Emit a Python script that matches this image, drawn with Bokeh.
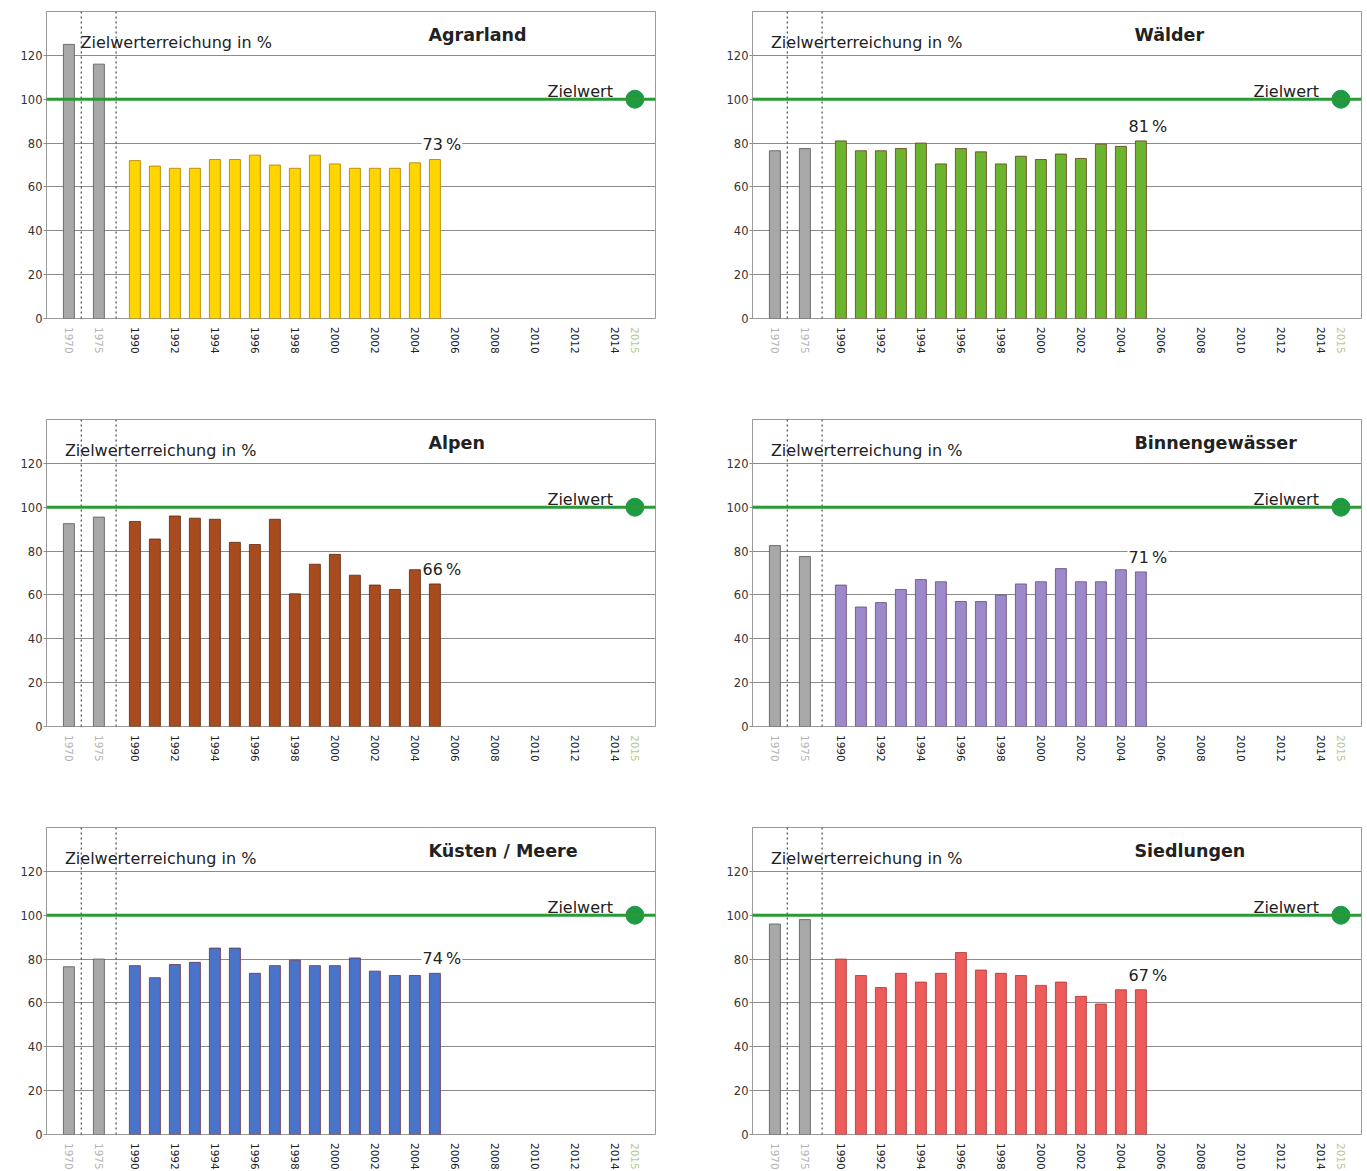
import math
from bokeh.plotting import figure
from bokeh.models import Range1d, Span, Label, ColumnDataSource, FixedTicker
from bokeh.layouts import column, row
from bokeh.core.properties import value
from bokeh.embed import file_html
from bokeh.resources import INLINE

# ---------------- data ----------------
early_years = [1970, 1975]
years = list(range(1990, 2006))
tick_years = [1970, 1975] + list(range(1990, 2015, 2)) + [2015]
target_year = 2015
target_value = 100

titles = ["Agrarland", "Wälder", "Alpen", "Binnengewässer", "Küsten / Meere", "Siedlungen"]

agrar_early = [125, 116]
agrar = [72, 69.5, 68.5, 68.5, 72.5, 72.5, 74.5, 70, 68.5, 74.5, 70.5, 68.5, 68.5, 68.5, 71, 72.5]

waelder_early = [76.5, 77.5]
waelder = [81, 76.5, 76.5, 77.5, 80, 70.5, 77.5, 76, 70.5, 74, 72.5, 75, 73, 79.5, 78.5, 81]

alpen_early = [92.5, 95.5]
alpen = [93.5, 85.5, 96, 95, 94.5, 84, 83, 94.5, 60.5, 74, 78.5, 69, 64.5, 62.5, 71.5, 65]

binnen_early = [82.5, 77.5]
binnen = [64.5, 54.5, 56.5, 62.5, 67, 66, 57, 57, 60, 65, 66, 72, 66, 66, 71.5, 70.5]

kuesten_early = [76.5, 80]
kuesten = [77, 71.5, 77.5, 78.5, 85, 85, 73.5, 77, 79.5, 77, 77, 80.5, 74.5, 72.5, 72.5, 73.5]

siedl_early = [96, 98]
siedl = [80, 72.5, 67, 73.5, 69.5, 73.5, 83, 75, 73.5, 72.5, 68, 69.5, 63, 59.5, 66, 66]

pct_labels = ["73\u202f%", "81\u202f%", "66\u202f%", "71\u202f%", "74\u202f%", "67\u202f%"]

# ---------------- styles ----------------
FONT = "DejaVu Sans"
fills = ["#ffd500", "#6ab42e", "#a84c1f", "#9c89c9", "#4a74c9", "#ee5b5b"]
lines = ["#b07a00", "#6a3a1a", "#5a2810", "#6a4a7a", "#6a3040", "#a83535"]
GRAY_FILL = "#a8a8a8"
GRAY_LINE = "#555555"
GREEN = "#2a9a36"
DOT = "#1e9a44"

EARLY_POS = {1970: -3.3, 1975: -1.8}


def pos(y):
    return EARLY_POS.get(y, y - 1990)


def tick_color(y):
    if y in EARLY_POS:
        return "#b3b3b3"
    if y == target_year:
        return "#b8c88c"
    return "#222222"


def make_panel(idx, title, early, vals, pct, col, rw):
    if col == 0:
        width, mbl, mbr = 688, 46, 33
    else:
        width, mbl, mbr = 678, 64, 5
    mbt = 11 if rw == 0 else 3
    mbb = 8
    strip_h = 29 if rw == 2 else 408 - 3 - 307 - mbb
    xr = Range1d(-4.42, 26.03)
    p = figure(width=width, height=mbt + 307 + mbb, x_range=xr,
               y_range=Range1d(0, 140), output_backend="svg", toolbar_location=None,
               min_border_left=mbl, min_border_right=mbr, min_border_top=mbt,
               min_border_bottom=mbb, outline_line_color="#9a9a9a", outline_line_width=1)
    p.xaxis.visible = False
    p.xgrid.visible = False
    p.yaxis.ticker = FixedTicker(ticks=[0, 20, 40, 60, 80, 100, 120])
    p.yaxis.axis_line_color = None
    p.yaxis.major_tick_out = 3
    p.yaxis.major_tick_in = 0
    p.yaxis.major_tick_line_color = "#8c8c8c"
    p.yaxis.minor_tick_line_color = None
    p.yaxis.major_label_standoff = 1
    p.yaxis.major_label_text_font = FONT
    p.yaxis.major_label_text_font_size = "11.5px"
    p.yaxis.major_label_text_color = "#333333"
    p.ygrid.grid_line_color = "#8c8c8c"
    p.ygrid.grid_line_width = 1

    # dashed separators
    for loc in (-2.68, -0.94):
        p.add_layout(Span(location=loc, dimension="height", line_color="#555555",
                          line_dash="2 3", line_width=1.3))

    # bars
    src_e = ColumnDataSource(dict(x=[pos(y) for y in early_years], top=early))
    p.vbar(x="x", top="top", width=0.55, source=src_e, fill_color=GRAY_FILL,
           line_color=GRAY_LINE, line_width=0.8)
    src = ColumnDataSource(dict(x=[pos(y) for y in years], top=vals))
    p.vbar(x="x", top="top", width=0.55, source=src, fill_color=fills[idx],
           line_color=lines[idx], line_width=0.8)

    # target line + dot
    p.add_layout(Span(location=target_value, dimension="width", line_color=GREEN,
                      line_width=3))
    p.scatter(x=[pos(target_year)], y=[target_value], size=18, fill_color=DOT,
              line_color=DOT)

    p.add_layout(Label(x=23.9, y=103.3, text="Zielwert", text_align="right",
                       text_baseline="alphabetic", text_font=FONT,
                       text_font_size="16px", text_color="#222222"))

    # texts
    zx = -2.72 if max(early) > 110 else -3.5
    p.add_layout(Label(x=zx, y=126, text="Zielwerterreichung in %", text_align="left",
                       text_baseline="middle", text_font=FONT, text_font_size="16px",
                       text_color="#222222"))
    p.add_layout(Label(x=14.68, y=129.5, text=title, text_align="left",
                       text_baseline="middle", text_font=FONT, text_font_size="17.5px",
                       text_font_style="bold", text_color="#222222"))
    p.add_layout(Label(x=15.35, y=vals[-1] + 6.7, text=pct, text_align="center",
                       text_baseline="middle", text_font=FONT, text_font_size="16px",
                       text_color="#222222", background_fill_color="white",
                       padding=1))

    # x tick labels in a strip figure sharing the x range
    s = figure(width=width, height=strip_h, x_range=xr, y_range=Range1d(0, strip_h),
               output_backend="svg", toolbar_location=None, x_axis_type=None,
               y_axis_type=None, min_border_left=mbl, min_border_right=mbr,
               min_border_top=0, min_border_bottom=0, outline_line_color=None)
    s.xgrid.visible = False
    s.ygrid.visible = False
    tsrc = ColumnDataSource(dict(x=[pos(y) for y in tick_years],
                                 y=[strip_h - 0.5] * len(tick_years),
                                 t=[str(y) for y in tick_years],
                                 c=[tick_color(y) for y in tick_years]))
    s.text(x="x", y="y", text="t", source=tsrc, angle=-math.pi / 2,
           text_align="left", text_baseline="middle", text_font=value(FONT),
           text_font_size="10.5px", text_color="c")
    return column(p, s)


datasets = [(agrar_early, agrar), (waelder_early, waelder), (alpen_early, alpen),
            (binnen_early, binnen), (kuesten_early, kuesten), (siedl_early, siedl)]

panels = []
for i, (e, v) in enumerate(datasets):
    panels.append(make_panel(i, titles[i], e, v, pct_labels[i], i % 2, i // 2))

layout = column(row(panels[0], panels[1]), row(panels[2], panels[3]),
                row(panels[4], panels[5]))

open("out.html", "w").write(file_html(layout, INLINE))
